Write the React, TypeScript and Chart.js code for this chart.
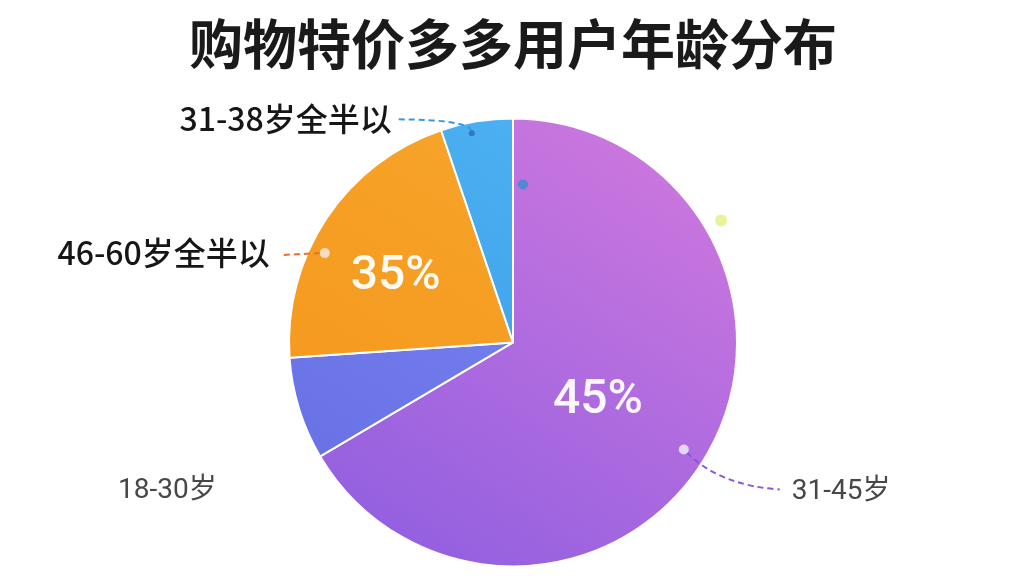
import React, { useEffect, useRef } from 'react';
import { Chart, registerables } from 'chart.js';

Chart.register(...registerables);

// Age groups, clockwise from 12 o'clock
const ageGroups = ['31-45岁', '18-30岁', '46-60岁全半以', '31-38岁全半以'];
// Slice sizes (share of the circle)
const shares = [66.5, 7.4, 20.9, 5.2];
// Percent text printed inside slices (as shown in the picture)
const percentLabels = ['45%', '', '35%', ''];

// [top colour, bottom colour] per slice
const sliceColors: [string, string][] = [
  ['#cf78de', '#915fe0'],
  ['#8088f2', '#6670e4'],
  ['#f8a62e', '#f4971a'],
  ['#4fb5f3', '#3898e6'],
];

const TITLE = '购物特价多多用户年龄分布';
const FONT_CJK = '"Noto Sans CJK SC", "Noto Sans", sans-serif';
const FONT_NUM = 'Roboto, "Noto Sans CJK SC", sans-serif';

type Arc = { x: number; y: number; startAngle: number; endAngle: number; outerRadius: number };

const pointOn = (arc: Arc, f: number, rf: number) => {
  const a = arc.startAngle + (arc.endAngle - arc.startAngle) * f;
  return { x: arc.x + Math.cos(a) * arc.outerRadius * rf, y: arc.y + Math.sin(a) * arc.outerRadius * rf };
};

const dot = (ctx: CanvasRenderingContext2D, x: number, y: number, r: number, color: string) => {
  ctx.beginPath();
  ctx.arc(x, y, r, 0, Math.PI * 2);
  ctx.fillStyle = color;
  ctx.fill();
};

const labelPlugin = {
  id: 'pieLabels',
  afterDatasetsDraw(chart: Chart) {
    const ctx = chart.ctx;
    const arcs = chart.getDatasetMeta(0).data.map((el: any) =>
      el.getProps(['x', 'y', 'startAngle', 'endAngle', 'outerRadius'], true)
    ) as Arc[];
    if (arcs.length < 4) return;
    const cx = arcs[0].x;
    const cy = arcs[0].y;

    ctx.save();

    // percentages inside slices
    const inner: [number, number][] = [[0.52, 0.46], [0.5, 0.6], [0.44, 0.6], [0.5, 0.6]];
    ctx.font = `500 48px ${FONT_NUM}`;
    ctx.fillStyle = 'rgba(255,255,255,0.95)';
    ctx.textAlign = 'center';
    ctx.textBaseline = 'middle';
    percentLabels.forEach((t, i) => {
      if (!t) return;
      const p = pointOn(arcs[i], inner[i][0], inner[i][1]);
      ctx.fillText(t, p.x, p.y);
    });

    ctx.lineWidth = 2;
    ctx.setLineDash([6, 4]);

    // 31-45岁 (purple)
    const a0 = pointOn(arcs[0], 0.51, 0.9);
    ctx.strokeStyle = '#8a55d8';
    ctx.beginPath();
    ctx.moveTo(a0.x + 3, a0.y + 3);
    ctx.quadraticCurveTo(a0.x + 36, a0.y + 36, a0.x + 96, a0.y + 40);
    ctx.stroke();

    // 46-60 (orange)
    const a2 = pointOn(arcs[2], 0.39, 0.93);
    ctx.strokeStyle = '#ec6f28';
    ctx.beginPath();
    ctx.moveTo(a2.x - 5, a2.y);
    ctx.lineTo(a2.x - 45, a2.y + 2);
    ctx.stroke();

    // 31-38 (blue)
    const a3 = pointOn(arcs[3], 0.41, 0.96);
    ctx.strokeStyle = '#3d96e2';
    ctx.beginPath();
    ctx.moveTo(a3.x, a3.y);
    ctx.quadraticCurveTo(a3.x - 4, a3.y - 12, a3.x - 76, a3.y - 12);
    ctx.stroke();
    ctx.setLineDash([]);

    dot(ctx, a0.x, a0.y, 5, '#e4d6f4');
    dot(ctx, a2.x, a2.y, 5, '#f9dcc4');
    dot(ctx, a3.x, a3.y + 2, 3, '#3577b8');
    dot(ctx, cx + 10, cy - 158, 5, '#5288d2');
    dot(ctx, cx + 208, cy - 122, 6, '#e9f29a');

    // outer texts
    ctx.textBaseline = 'middle';
    ctx.font = `500 32px ${FONT_CJK}`;
    ctx.fillStyle = '#161616';
    ctx.textAlign = 'right';
    ctx.fillText(ageGroups[3], a3.x - 80, a3.y - 12);
    ctx.fillText(ageGroups[2], a2.x - 55, a2.y);

    ctx.font = `400 28px ${FONT_NUM}`;
    ctx.fillStyle = '#474747';
    ctx.textAlign = 'left';
    ctx.fillText(ageGroups[0], a0.x + 108, a0.y + 42);
    ctx.fillText(ageGroups[1], cx - 395, cy + 149);

    ctx.restore();
  },
};

const App: React.FC = () => {
  const canvasRef = useRef<HTMLCanvasElement>(null);
  const chartRef = useRef<Chart | null>(null);

  useEffect(() => {
    const ctx = canvasRef.current?.getContext('2d');
    if (!ctx) return;
    if (chartRef.current) chartRef.current.destroy();

    chartRef.current = new Chart(ctx, {
      type: 'pie',
      data: {
        labels: ageGroups,
        datasets: [
          {
            data: shares,
            backgroundColor: (c: any) => {
              const chart = c.chart;
              const area = chart.chartArea;
              const col = sliceColors[c.dataIndex] || sliceColors[0];
              if (!area) return col[0];
              const mx = (area.left + area.right) / 2;
              const g = chart.ctx.createLinearGradient(mx + 160, area.top, mx - 120, area.bottom);
              g.addColorStop(0, col[0]);
              g.addColorStop(1, col[1]);
              return g;
            },
            borderColor: '#ffffff',
            borderWidth: 2,
            hoverOffset: 0,
            radius: 224,
          } as any,
        ],
      },
      options: {
        responsive: true,
        maintainAspectRatio: false,
        animation: false,
        layout: { padding: { left: 2, right: 0, top: 0, bottom: 12 } },
        plugins: {
          legend: { display: false },
          tooltip: { enabled: false },
          title: {
            display: true,
            text: TITLE,
            color: '#1a1a1a',
            font: { size: 54, weight: 'bold', family: FONT_CJK, lineHeight: 1.2 },
            padding: { top: 12, bottom: 44 },
          },
        },
      },
      plugins: [labelPlugin],
    });

    return () => {
      if (chartRef.current) {
        chartRef.current.destroy();
        chartRef.current = null;
      }
    };
  }, []);

  return (
    <div style={{ position: 'fixed', left: 0, top: 0, width: 1024, height: 576, background: '#ffffff' }}>
      <canvas ref={canvasRef} />
    </div>
  );
};

export default App;
